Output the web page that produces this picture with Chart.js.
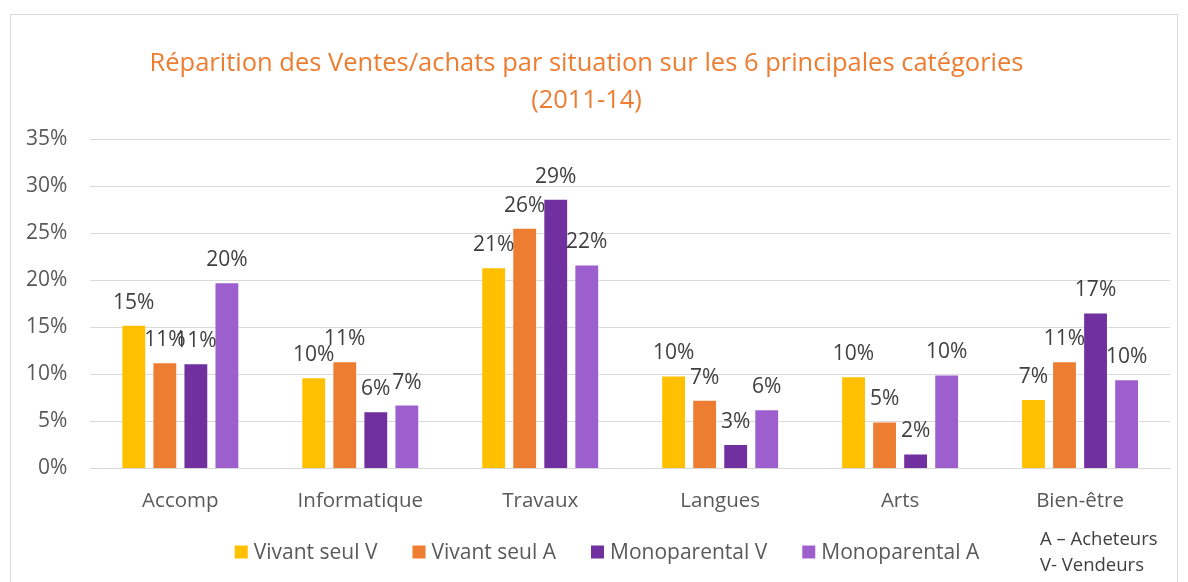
<!DOCTYPE html>
<html>
<head>
<meta charset="utf-8">
<script src="https://cdn.jsdelivr.net/npm/chart.js@4.4.1/dist/chart.umd.min.js"></script>
<style>
  html, body { margin: 0; padding: 0; background: #fff; }
  .box {
    position: absolute; left: 10px; top: 14px;
    width: 1166px; height: 580px;
    border: 1px solid #d9d9d9; border-bottom: none;
  }
  .box canvas { display: block; }
</style>
</head>
<body>
<div class="box"><canvas id="chart" width="1166" height="567"></canvas></div>
<script>
// ===== DONNÉES =====
const categories = ['Accomp', 'Informatique', 'Travaux', 'Langues', 'Arts', 'Bien-être'];
const seriesNames = ['Vivant seul V', 'Vivant seul A', 'Monoparental V', 'Monoparental A'];
const vivantSeulV   = [15.3, 9.7, 21.4, 9.9, 9.8, 7.4];
const vivantSeulA   = [11.3, 11.4, 25.6, 7.3, 5.0, 11.4];
const monoparentalV = [11.2, 6.1, 28.7, 2.6, 1.6, 16.6];
const monoparentalA = [19.8, 6.8, 21.7, 6.3, 10.0, 9.5];
const yTicks = [0, 5, 10, 15, 20, 25, 30, 35];
const colors = ['#FFC000', '#ED7D31', '#7030A0', '#9E5FCE'];

const FONT = '"Open Sans", sans-serif';

// étiquettes de valeurs au-dessus des barres
const valueLabels = {
  id: 'valueLabels',
  afterDatasetsDraw(chart) {
    const ctx = chart.ctx;
    ctx.save();
    ctx.font = '21px ' + FONT;
    ctx.fillStyle = '#404040';
    ctx.textAlign = 'center';
    ctx.textBaseline = 'middle';
    chart.data.datasets.forEach((ds, i) => {
      chart.getDatasetMeta(i).data.forEach((bar, j) => {
        ctx.fillText(Math.round(ds.data[j]) + '%', bar.x, bar.y - 22);
      });
    });
    ctx.restore();
  }
};

// légende en bas (espacement façon Excel) + note A / V
const bottomLegend = {
  id: 'bottomLegend',
  afterDraw(chart) {
    const ctx = chart.ctx;
    const y = 537, box = 13, gap = 6, spacing = 35;
    ctx.save();
    ctx.font = '21px ' + FONT;
    ctx.textAlign = 'left';
    ctx.textBaseline = 'middle';
    const items = chart.data.datasets.map(ds => ({
      text: ds.label, color: ds.backgroundColor, w: ctx.measureText(ds.label).width
    }));
    const total = items.reduce((s, it) => s + box + gap + it.w, 0) + spacing * (items.length - 1);
    let x = 596 - total / 2;
    items.forEach(it => {
      ctx.fillStyle = it.color;
      ctx.fillRect(x, y - box / 2, box, box);
      ctx.fillStyle = '#595959';
      ctx.fillText(it.text, x + box + gap, y + 1);
      x += box + gap + it.w + spacing;
    });

    ctx.font = '18.5px ' + FONT;
    ctx.fillStyle = '#404040';
    ctx.fillText('A – Acheteurs', 1029, 525);
    ctx.fillText('V- Vendeurs', 1029, 551);
    ctx.restore();
  }
};

const seriesData = [vivantSeulV, vivantSeulA, monoparentalV, monoparentalA];

new Chart(document.getElementById('chart'), {
  type: 'bar',
  data: {
    labels: categories,
    datasets: seriesData.map((d, i) => ({
      label: seriesNames[i],
      data: d,
      backgroundColor: colors[i],
      borderColor: 'rgba(255,255,255,0.35)',
      borderWidth: 1,
      barPercentage: 0.8,
      categoryPercentage: 0.69
    }))
  },
  options: {
    responsive: false,
    animation: false,
    layout: { padding: { left: -8, right: 7, bottom: 57 } },
    plugins: {
      title: {
        display: true,
        text: ['Réparition des Ventes/achats par situation sur les 6 principales catégories', '(2011-14)'],
        color: '#ED7D31',
        font: { family: FONT, size: 25.5, weight: 'normal', lineHeight: 1.42 },
        padding: { top: 31, bottom: 21 }
      },
      legend: { display: false },
      tooltip: { enabled: false }
    },
    scales: {
      x: {
        grid: { display: false },
        border: { color: '#d9d9d9' },
        ticks: { color: '#595959', font: { family: FONT, size: 20.5, lineHeight: 1 }, padding: 14 }
      },
      y: {
        min: 0,
        max: 35,
        afterBuildTicks: axis => { axis.ticks = yTicks.map(v => ({ value: v })); },
        grid: { color: '#d9d9d9', drawTicks: false },
        border: { display: false },
        ticks: {
          color: '#595959',
          font: { family: FONT, size: 21 },
          padding: 23,
          callback: v => v + '%'
        }
      }
    }
  },
  plugins: [valueLabels, bottomLegend]
});
</script>
</body>
</html>
